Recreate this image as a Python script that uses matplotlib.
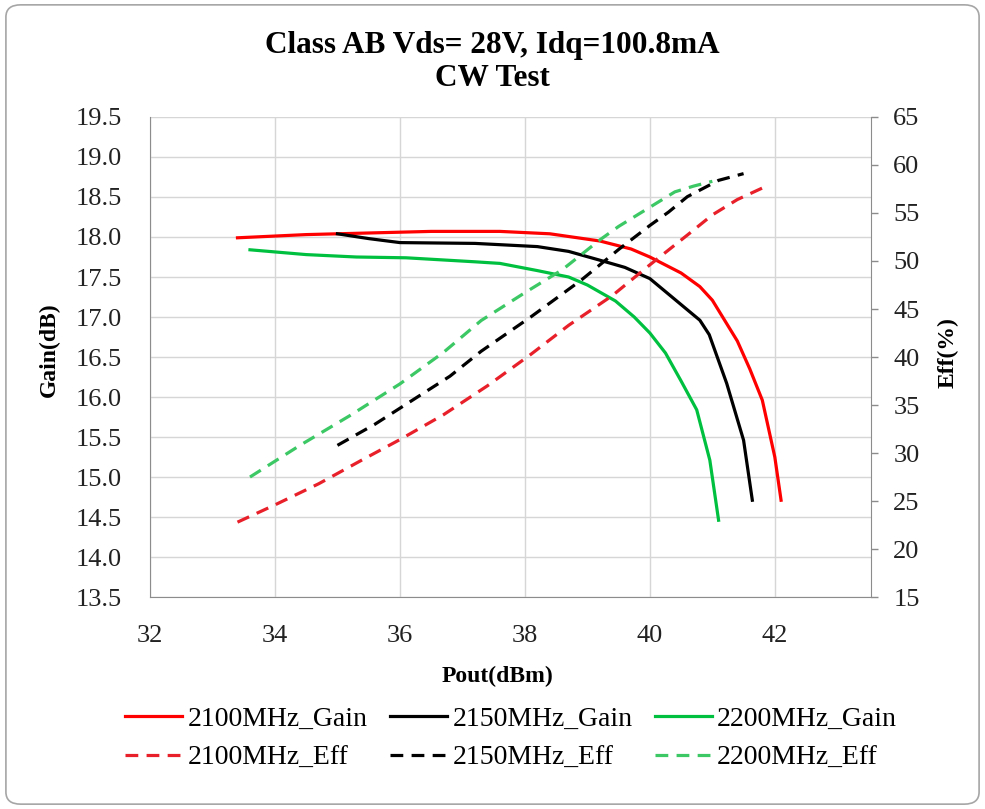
import matplotlib
matplotlib.use("Agg")
import matplotlib.pyplot as plt
from matplotlib.patches import FancyBboxPatch
import numpy as np

plt.rcParams['font.family'] = ['Liberation Serif', 'DejaVu Serif']

# Gain curves (Pout dBm, Gain dB)
pout_2100_gain = [33.4, 34.5, 35.5, 36.5, 37.6, 38.4, 39.2, 39.7, 40.0, 40.5, 40.8, 41.0, 41.4, 41.6, 41.8, 42.0, 42.1]
gain_2100 = [17.99, 18.03, 18.05, 18.07, 18.07, 18.04, 17.95, 17.85, 17.75, 17.55, 17.38, 17.21, 16.7, 16.35, 15.96, 15.25, 14.71]

pout_2150_gain = [35.0, 35.5, 36.0, 37.2, 38.2, 38.7, 39.2, 39.6, 40.0, 40.4, 40.8, 40.95, 41.23, 41.5, 41.64]
gain_2150 = [18.04, 17.98, 17.93, 17.92, 17.88, 17.82, 17.71, 17.62, 17.48, 17.22, 16.96, 16.78, 16.17, 15.46, 14.71]

pout_2200_gain = [33.6, 34.5, 35.3, 36.1, 37.2, 37.6, 38.2, 38.7, 39.0, 39.45, 39.75, 40.0, 40.25, 40.5, 40.75, 40.96, 41.1]
gain_2200 = [17.84, 17.78, 17.75, 17.74, 17.69, 17.67, 17.58, 17.5, 17.4, 17.2, 17.0, 16.8, 16.55, 16.2, 15.84, 15.21, 14.46]

# Efficiency curves (Pout dBm, Eff %)
pout_2100_eff = [33.4, 34.0, 34.7, 35.4, 36.0, 36.7, 37.4, 38.1, 38.7, 39.4, 40.0, 40.6, 41.0, 41.4, 41.9]
eff_2100 = [22.8, 24.6, 26.8, 29.3, 31.4, 34.0, 37.0, 40.3, 43.3, 46.4, 49.6, 52.7, 54.8, 56.4, 57.9]

pout_2150_eff = [35.0, 35.6, 36.2, 36.8, 37.3, 38.1, 38.9, 39.5, 40.0, 40.3, 40.6, 41.1, 41.5]
eff_2150 = [30.8, 33.0, 35.5, 38.0, 40.6, 44.2, 48.0, 51.2, 53.7, 55.1, 56.7, 58.4, 59.1]

pout_2200_eff = [33.6, 34.4, 35.2, 36.0, 36.7, 37.3, 38.0, 38.6, 39.2, 39.5, 40.0, 40.4, 40.7, 41.0]
eff_2200 = [27.5, 30.8, 33.9, 37.2, 40.5, 43.8, 46.7, 49.1, 52.2, 53.6, 55.6, 57.2, 57.8, 58.3]

x_ticks = [32, 34, 36, 38, 40, 42]
gain_ticks = np.arange(13.5, 19.51, 0.5)
eff_ticks = np.arange(15, 65.1, 5)

fig = plt.figure(figsize=(9.85, 8.09), dpi=100)
fig.patches.append(FancyBboxPatch((0.006, 0.006), 0.988, 0.988, boxstyle="round,pad=0,rounding_size=0.015",
                                  transform=fig.transFigure, facecolor='none', edgecolor='#A6A6A6',
                                  lw=1.2, zorder=-1))

ax = fig.add_axes([0.1523, 0.262, 0.732, 0.5934])
ax2 = ax.twinx()

lw = 2.3
dash = (4, 2.6)
l1, = ax.plot(pout_2100_gain, gain_2100, color='#FF0000', lw=lw, label='2100MHz_Gain')
l2, = ax.plot(pout_2150_gain, gain_2150, color='#000000', lw=lw, label='2150MHz_Gain')
l3, = ax.plot(pout_2200_gain, gain_2200, color='#00C040', lw=lw, label='2200MHz_Gain')
e1, = ax2.plot(pout_2100_eff, eff_2100, color='#E8202A', lw=lw, dashes=dash, label='2100MHz_Eff')
e2, = ax2.plot(pout_2150_eff, eff_2150, color='#000000', lw=lw, dashes=dash, label='2150MHz_Eff')
e3, = ax2.plot(pout_2200_eff, eff_2200, color='#3CC864', lw=lw, dashes=dash, label='2200MHz_Eff')

ax.set_xlim(32, 43.54)
ax.set_ylim(13.5, 19.5)
ax2.set_ylim(15, 65)
ax.set_xticks(x_ticks)
ax.set_yticks(gain_ticks)
ax.set_yticklabels(['%.1f' % v for v in gain_ticks])
ax2.set_yticks(eff_ticks)
ax2.set_yticklabels(['%d' % v for v in eff_ticks])

ax.grid(True, color='#D6D6D6', lw=1)
ax.set_axisbelow(True)
ax.tick_params(axis='both', length=0, labelsize=19, colors='#222222')
ax.tick_params(axis='y', pad=20)
ax.tick_params(axis='x', pad=20)
ax2.tick_params(axis='y', length=5, width=1, color='#8C8C8C', labelsize=19, labelcolor='#222222', pad=11)

ax.spines['top'].set_visible(False)
ax.spines['right'].set_visible(False)
for s in ['left', 'bottom']:
    ax.spines[s].set_color('#8C8C8C')
for s in ['left', 'top', 'bottom']:
    ax2.spines[s].set_visible(False)
ax2.spines['right'].set_color('#8C8C8C')

fig.text(0.5046, 0.1644, 'Pout(dBm)', ha='center', va='center', fontsize=17, fontweight='bold')
fig.text(0.05, 0.5674, 'Gain(dB)', ha='center', va='center', rotation=90, fontsize=17, fontweight='bold')
fig.text(0.9624, 0.5637, 'Eff(%)', ha='center', va='center', rotation=90, fontsize=17, fontweight='bold')

fig.text(0.5, 0.944, 'Class AB Vds= 28V, Idq=100.8mA', ha='center', va='center', fontsize=22.5, fontweight='bold')
fig.text(0.5, 0.903, 'CW Test', ha='center', va='center', fontsize=22.5, fontweight='bold')

handles = [l1, e1, l2, e2, l3, e3]
fig.legend(handles=handles, labels=[h.get_label() for h in handles], loc='center',
           bbox_to_anchor=(0.519, 0.087), ncol=3, frameon=False, fontsize=20,
           handlelength=2.05, handletextpad=0.2, columnspacing=0.8, labelspacing=0.5)

fig.savefig('out.png', dpi=100)
